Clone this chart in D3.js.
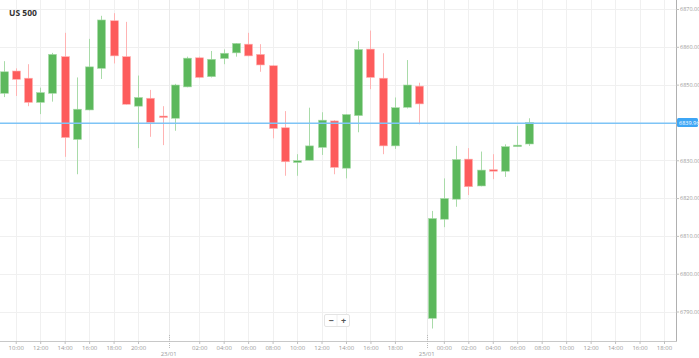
<!DOCTYPE html>
<html>
<head>
<meta charset="utf-8">
<script src="https://cdn.jsdelivr.net/npm/d3@7/dist/d3.min.js"></script>
<style>
  html, body { margin: 0; padding: 0; background: #fff; }
  svg { display: block; }
</style>
</head>
<body>
<svg id="chart" width="699" height="358"></svg>
<script>
// ---- data ----
const candleLabels = ["22/01 09:00","10:00","11:00","12:00","13:00","14:00","15:00","16:00","17:00","18:00","19:00","20:00","21:00","22:00",
  "23/01 00:00","01:00","02:00","03:00","04:00","05:00","06:00","07:00","08:00","09:00","10:00","11:00","12:00","13:00","14:00","15:00","16:00","17:00","18:00","19:00","20:00",
  "25/01 23:00","00:00","01:00","02:00","03:00","04:00","05:00","06:00","07:00"];
const opens  = [6847.7,6853.6,6851.7,6845.3,6847.7,6857.4,6835.5,6843.3,6854.3,6866.9,6857.4,6844.3,6846.4,6841.7,
  6841.1,6849.4,6857.1,6852.1,6856.9,6858.4,6860.7,6858.0,6855.0,6838.6,6829.4,6830.0,6833.4,6840.4,6827.9,6841.8,6859.4,6851.7,6833.8,6844.0,6849.6,
  6788.2,6814.4,6819.7,6830.3,6823.2,6827.5,6827.1,6833.6,6834.3];
const highs  = [6856.2,6854.3,6855.4,6849.2,6858.4,6863.7,6851.9,6862.1,6868.2,6868.9,6866.6,6852.4,6848.6,6844.3,
  6850.2,6857.4,6857.4,6858.9,6859.3,6861.0,6863.7,6860.7,6855.2,6843.0,6831.6,6843.9,6842.7,6840.6,6842.2,6861.5,6864.3,6858.3,6846.6,6856.5,6850.5,
  6816.6,6825.2,6833.8,6833.2,6832.3,6831.6,6834.2,6839.1,6841.1];
const lows   = [6846.7,6847.0,6844.3,6842.2,6845.5,6830.9,6826.3,6843.2,6851.5,6855.6,6844.7,6833.2,6836.2,6834.0,
  6837.8,6849.3,6851.7,6851.9,6855.4,6857.4,6857.5,6853.4,6835.8,6825.9,6825.9,6830.0,6831.4,6826.3,6825.2,6837.4,6848.8,6831.6,6833.0,6843.7,6839.5,
  6785.5,6812.3,6817.7,6820.8,6823.1,6825.0,6825.6,6833.5,6833.8];
const closes = [6853.4,6851.4,6845.3,6847.9,6858.0,6836.0,6843.5,6854.7,6867.1,6857.6,6844.8,6846.6,6840.0,6841.3,
  6849.9,6857.0,6851.9,6856.7,6858.3,6860.9,6857.6,6855.2,6838.4,6829.6,6829.9,6833.8,6840.6,6828.1,6842.1,6859.3,6851.9,6833.8,6843.9,6849.9,6844.9,
  6814.6,6819.9,6830.2,6823.0,6827.4,6827.1,6833.6,6834.0,6839.96];

const xTickLabels = ["10:00","12:00","14:00","16:00","18:00","20:00","02:00","04:00","06:00","08:00","10:00","12:00","14:00","16:00","18:00",
  "00:00","02:00","04:00","06:00","08:00","10:00","12:00","14:00","16:00","18:00"];
const xTickSlots  = [1,3,5,7,9,11,16,18,20,22,24,26,28,30,32,36,38,40,42,44,46,48,50,52,54];
const dateLabels = ["23/01","25/01"];
const dateSlots  = [13.5, 34.6];
const yTickValues = [6790,6800,6810,6820,6830,6840,6850,6860,6870];
const currentPrice = 6839.96;
const title = "US 500";

// ---- layout ----
const svg = d3.select("#chart");
const plotRight = 676, plotBottom = 341;
const x = d3.scaleLinear().domain([0, 54]).range([3.5, 664]);
const y = d3.scaleLinear().domain([6790, 6870]).range([311.5, 9]);
const font = "'Open Sans', Roboto, sans-serif";

// grid
const grid = svg.append("g");
grid.selectAll("line.h").data(yTickValues.filter(v => v !== 6840)).join("line")
  .attr("x1", 0).attr("x2", plotRight)
  .attr("y1", d => Math.round(y(d)) + 0.5).attr("y2", d => Math.round(y(d)) + 0.5)
  .attr("stroke", "#f0f0f0");
grid.selectAll("line.v").data(xTickSlots).join("line")
  .attr("x1", d => Math.round(x(d)) + 0.5).attr("x2", d => Math.round(x(d)) + 0.5)
  .attr("y1", 0).attr("y2", plotBottom)
  .attr("stroke", "#f0f0f0");
grid.selectAll("line.d").data(dateSlots).join("line")
  .attr("x1", d => Math.round(x(d)) + 0.5).attr("x2", d => Math.round(x(d)) + 0.5)
  .attr("y1", 0).attr("y2", plotBottom)
  .attr("stroke", "#eaeaea");

// candles
const data = candleLabels.map((t, i) => ({ t, i, o: opens[i], h: highs[i], l: lows[i], c: closes[i] }));
const up = d => d.c >= d.o;
const cg = svg.append("g");
cg.selectAll("line.wick").data(data).join("line")
  .attr("x1", d => Math.round(x(d.i)) + 0.5).attr("x2", d => Math.round(x(d.i)) + 0.5)
  .attr("y1", d => y(d.h)).attr("y2", d => y(d.l))
  .attr("stroke", d => up(d) ? "#a9dba9" : "#ffb3b3").attr("stroke-width", 1);
const bw = 8;
cg.selectAll("rect.body").data(data).join("rect")
  .attr("x", d => Math.round(x(d.i)) + 0.5 - bw / 2)
  .attr("y", d => y(Math.max(d.o, d.c)))
  .attr("width", bw)
  .attr("height", d => Math.max(1, Math.abs(y(d.o) - y(d.c))))
  .attr("fill", d => up(d) ? "#5cb85c" : "#fd5c5c")
  .attr("stroke", d => up(d) ? "#a9dba9" : "#ffb3b3")
  .attr("stroke-width", 0.6);

// current price line
svg.append("rect")
  .attr("x", 0).attr("width", plotRight)
  .attr("y", Math.round(y(currentPrice)) - 0.5).attr("height", 1.5)
  .attr("fill", "#7ec4f6");

// axes lines
svg.append("line").attr("x1", plotRight + 0.5).attr("x2", plotRight + 0.5).attr("y1", 0).attr("y2", plotBottom)
  .attr("stroke", "#b0b0b0");
svg.append("line").attr("x1", 0).attr("x2", plotRight + 1).attr("y1", plotBottom + 0.5).attr("y2", plotBottom + 0.5)
  .attr("stroke", "#c8c8c8");

// y axis
const yAxis = d3.axisRight(y).tickValues(yTickValues).tickSize(3).tickPadding(1)
  .tickFormat(d3.format(".2f"));
const ya = svg.append("g").attr("transform", `translate(${plotRight},0)`).call(yAxis);
ya.select(".domain").remove();
ya.selectAll(".tick line").attr("stroke", "#c0c0c0");
ya.selectAll(".tick text").attr("fill", "#9a9a9a").attr("font-size", 5.5).attr("font-family", font);

// x axis
const xAxis = d3.axisBottom(x).tickValues(xTickSlots).tickSize(3).tickPadding(2)
  .tickFormat((d, i) => xTickLabels[i]);
const xa = svg.append("g").attr("transform", `translate(0,${plotBottom})`).call(xAxis);
xa.select(".domain").remove();
xa.selectAll(".tick line").attr("stroke", "#c0c0c0");
xa.selectAll(".tick text").attr("fill", "#9a9a9a").attr("font-size", 6).attr("font-family", font);

// date ticks
const dg = svg.append("g");
dg.selectAll("line").data(dateSlots).join("line")
  .attr("x1", d => Math.round(x(d)) + 0.5).attr("x2", d => Math.round(x(d)) + 0.5)
  .attr("y1", plotBottom - 6).attr("y2", plotBottom + 8)
  .attr("stroke", "#bbb").attr("stroke-dasharray", "1,1");
dg.selectAll("text").data(dateSlots).join("text")
  .attr("x", d => x(d)).attr("y", plotBottom + 15)
  .attr("text-anchor", "middle")
  .attr("fill", "#9a9a9a").attr("font-size", 6).attr("font-family", font)
  .text((d, i) => dateLabels[i]);

// price badge
const by = y(currentPrice);
svg.append("rect").attr("x", plotRight + 1).attr("y", by - 4.5).attr("width", 21).attr("height", 9)
  .attr("rx", 1.5).attr("fill", "#3ea6f5");
svg.append("text").attr("x", plotRight + 3).attr("y", by + 2)
  .attr("fill", "#fff").attr("font-size", 5.5).attr("font-family", font)
  .text(d3.format(".2f")(currentPrice));

// title
svg.append("text").attr("x", 9).attr("y", 15.5)
  .attr("fill", "#333").attr("font-size", 8.5).attr("font-weight", "bold").attr("font-family", font)
  .text(title);

// zoom buttons
const zb = svg.append("g");
zb.append("rect").attr("x", 324.5).attr("y", 314.5).attr("width", 25).attr("height", 12)
  .attr("fill", "#fff").attr("stroke", "#e4e4e4").attr("rx", 1.5);
zb.append("line").attr("x1", 337).attr("x2", 337).attr("y1", 315).attr("y2", 326).attr("stroke", "#eee");
zb.append("text").attr("x", 331).attr("y", 323.5).attr("text-anchor", "middle")
  .attr("fill", "#555").attr("font-size", 9).attr("font-weight", "bold").attr("font-family", font).text("−");
zb.append("text").attr("x", 343.5).attr("y", 323.5).attr("text-anchor", "middle")
  .attr("fill", "#555").attr("font-size", 9).attr("font-weight", "bold").attr("font-family", font).text("+");
</script>
</body>
</html>
